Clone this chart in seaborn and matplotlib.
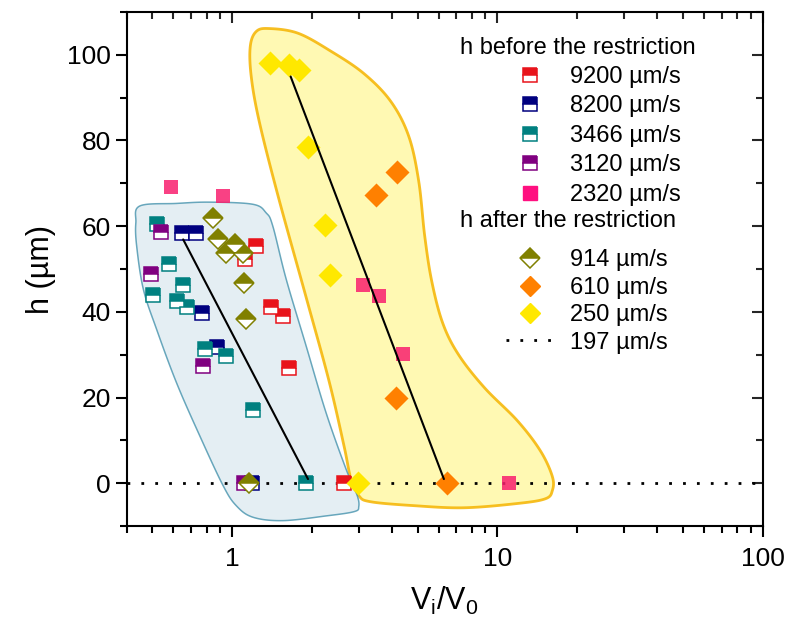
import numpy as np
import matplotlib
matplotlib.use('Agg')
import matplotlib.pyplot as plt
import matplotlib.ticker as mticker
from matplotlib.lines import Line2D
from matplotlib.patches import Polygon
import seaborn as sns

# ---- h before the restriction (Vi/V0, h in um) ----
v9200_x = [1.23, 1.12, 1.40, 1.55, 1.63, 2.64]
v9200_y = [55.3, 52.3, 41.1, 39.1, 26.9, 0]
v8200_x = [0.649, 0.728, 0.767, 0.878, 1.19]
v8200_y = [58.3, 58.3, 39.8, 31.9, 0]
v3466_x = [0.522, 0.575, 0.653, 0.501, 0.621, 0.677, 0.787, 0.949, 1.20, 1.90]
v3466_y = [60.6, 51.1, 46.2, 43.9, 42.5, 41.2, 31.3, 29.7, 17.1, 0]
v3120_x = [0.541, 0.492, 0.776, 1.11]
v3120_y = [58.7, 48.8, 27.4, 0]
v2320_x = [0.586, 0.923, 3.10, 3.58, 4.40, 11.1]
v2320_y = [69.2, 67.0, 46.3, 43.7, 30.1, 0]

# ---- h after the restriction ----
v914_x = [0.846, 0.884, 1.02, 0.949, 1.097, 1.103, 1.129, 1.155]
v914_y = [61.8, 56.9, 55.8, 53.8, 53.8, 46.7, 38.3, 0]
v610_x = [4.19, 3.47, 4.16, 6.43]
v610_y = [72.7, 67.2, 19.8, 0]
v250_x = [1.39, 1.63, 1.79, 1.93, 2.24, 2.34, 2.97]
v250_y = [98.0, 97.7, 96.5, 78.4, 60.2, 48.6, 0]

# guide lines
line1_x = [0.653, 1.93]
line1_y = [56.9, 1.0]
line2_x = [1.66, 6.28]
line2_y = [94.9, 1.0]

# envelope outlines (hand drawn regions)
blue_x = [0.433, 0.448, 0.616, 0.822, 1.196, 1.342, 1.422, 1.596, 1.898, 2.257,
          2.683, 2.95, 3.0, 2.88, 2.257, 1.551, 1.196, 1.035, 0.923, 0.754,
          0.616, 0.518, 0.462, 0.436]
blue_y = [60.8, 64.7, 65.3, 65.6, 65.1, 63.1, 60.0, 47.7, 32.1, 16.5,
          3.4, -2.6, -5.4, -6.6, -7.6, -8.7, -7.9, -5.2, -0.5, 11.1,
          23.5, 36.0, 45.3, 55.4]
yel_x = [1.169, 1.231, 1.377, 1.771, 2.356, 3.135, 3.96, 4.627, 5.047, 5.317,
         5.649, 6.215, 7.135, 8.935, 11.89, 14.51, 16.1, 16.1, 15.15, 11.89,
         7.45, 4.83, 3.33, 3.002, 2.80, 2.637, 2.316, 1.897, 1.489, 1.263, 1.179]
yel_y = [101.9, 105.4, 106.1, 105.0, 100.8, 95.6, 89.1, 81.0, 70.5, 57.7,
         47.2, 37.4, 30.0, 22.3, 14.6, 7.6, 1.6, -1.7, -3.6, -4.7,
         -5.7, -5.2, -4.3, -2.9, 1.1, 8.8, 23.9, 43.5, 67.0, 84.5, 94.9]

before_labels = ['9200 µm/s', '8200 µm/s', '3466 µm/s', '3120 µm/s', '2320 µm/s']
after_labels = ['914 µm/s', '610 µm/s', '250 µm/s', '197 µm/s']

red, navy, teal, purple, pink = '#e8141b', '#00007f', '#008080', '#800080', '#ff1080'
olive, orange, yellow = '#808000', '#ff8000', '#ffe800'


def smooth_closed(xs, ys, n=16):
    # closed Catmull-Rom curve in (log x, y) space
    P = np.column_stack([np.log10(xs), ys])
    N = len(P)
    t = np.linspace(0, 1, n, endpoint=False)[:, None]
    segs = []
    for i in range(N):
        p0, p1, p2, p3 = P[i - 1], P[i], P[(i + 1) % N], P[(i + 2) % N]
        segs.append(0.5 * (2 * p1 + (-p0 + p2) * t
                           + (2 * p0 - 5 * p1 + 4 * p2 - p3) * t ** 2
                           + (-p0 + 3 * p1 - 3 * p2 + p3) * t ** 3))
    out = np.vstack(segs)
    return np.column_stack([10 ** out[:, 0], out[:, 1]])


sns.set_theme(style='ticks')
plt.rcParams['font.family'] = ['Liberation Sans', 'DejaVu Sans']
plt.rcParams['mathtext.default'] = 'regular'
plt.rcParams['text.color'] = 'black'
plt.rcParams['axes.labelcolor'] = 'black'

fig, ax = plt.subplots(figsize=(7.92, 6.22), dpi=100)
fig.subplots_adjust(left=0.16, right=0.963, top=0.981, bottom=0.154)
ax.set_xscale('log')
ax.set_xlim(0.4, 100)
ax.set_ylim(-10, 110)

# shaded envelopes
ax.add_patch(Polygon(smooth_closed(yel_x, yel_y), closed=True, facecolor='#fff8a6',
                     alpha=0.85, edgecolor='#f5b400', lw=2.0, zorder=1))
ax.add_patch(Polygon(smooth_closed(blue_x, blue_y), closed=True, facecolor='#dce9ef',
                     alpha=0.75, edgecolor='#3a8ca8', lw=1.1, zorder=1.2))

# 197 um/s: h = 0
ax.axhline(0, color='black', ls=(0, (1, 4)), lw=2, zorder=2)

sq = dict(ls='', marker='s', ms=9.8, mew=1.1, fillstyle='top', markerfacecoloralt='white')
for xs, ys, c in [(v9200_x, v9200_y, red), (v8200_x, v8200_y, navy),
                  (v3466_x, v3466_y, teal), (v3120_x, v3120_y, purple)]:
    ax.plot(xs, ys, color=c, mfc=c, mec=c, zorder=3, **sq)

sns.scatterplot(x=v2320_x, y=v2320_y, marker='s', s=105, color='#f8206e', alpha=0.85,
                linewidth=0, ax=ax, zorder=3, legend=False)

ax.plot(v914_x, v914_y, ls='', marker='D', ms=10, mew=1.1, color=olive, mfc=olive,
        mec=olive, fillstyle='top', markerfacecoloralt='white', zorder=4)
sns.scatterplot(x=v610_x, y=v610_y, marker='D', s=150, color=orange, linewidth=0,
                ax=ax, zorder=4, legend=False)
sns.scatterplot(x=v250_x, y=v250_y, marker='D', s=150, color=yellow, linewidth=0,
                ax=ax, zorder=4, legend=False)

sns.lineplot(x=line1_x, y=line1_y, color='black', lw=1.5, ax=ax, zorder=5,
             estimator=None, sort=False, legend=False)
sns.lineplot(x=line2_x, y=line2_y, color='black', lw=1.5, ax=ax, zorder=5,
             estimator=None, sort=False, legend=False)

# axes styling
for sp in ax.spines.values():
    sp.set_linewidth(1.5)
    sp.set_color('black')
ax.xaxis.set_major_formatter(mticker.FuncFormatter(lambda v, _: f'{v:g}'))
ax.xaxis.set_minor_formatter(mticker.NullFormatter())
ax.yaxis.set_major_locator(mticker.MultipleLocator(20))
ax.yaxis.set_minor_locator(mticker.MultipleLocator(10))
ax.tick_params(which='both', direction='out', width=1.5, color='black', labelsize=19,
               labelcolor='black')
ax.tick_params(which='major', length=8)
ax.tick_params(which='minor', length=5)
ax.tick_params(axis='x', which='major', pad=7)

top = ax.secondary_xaxis('top')
top.tick_params(which='both', direction='in', width=1.5, labeltop=False)
top.tick_params(which='major', length=8)
top.tick_params(which='minor', length=5)
right = ax.secondary_yaxis('right')
right.yaxis.set_major_locator(mticker.MultipleLocator(20))
right.yaxis.set_minor_locator(mticker.MultipleLocator(10))
right.tick_params(which='both', direction='in', width=1.5, labelright=False)
right.tick_params(which='major', length=8)
right.tick_params(which='minor', length=5)

ax.set_xlabel(r'V$_i$/V$_0$', fontsize=22, labelpad=10)
ax.set_ylabel('h (µm)', fontsize=22, labelpad=8)

# legend
before_colors = [red, navy, teal, purple]
h_before = [Line2D([], [], color=c, mfc=c, mec=c, **sq) for c in before_colors]
h_before.append(Line2D([], [], ls='', marker='s', ms=9.8, color=pink, mec=pink))
h_after = [Line2D([], [], ls='', marker='D', ms=10, mew=1.1, color=olive, mfc=olive, mec=olive,
                  fillstyle='top', markerfacecoloralt='white'),
           Line2D([], [], ls='', marker='D', ms=10, color=orange, mec=orange),
           Line2D([], [], ls='', marker='D', ms=10, color=yellow, mec=yellow),
           Line2D([], [], color='black', ls=(0, (1, 4)), lw=2)]

leg_kw = dict(loc='upper left', frameon=False, fontsize=17, handlelength=2.0,
              handletextpad=0.7, borderpad=0, borderaxespad=0)
leg1 = ax.legend(handles=h_before, labels=before_labels, bbox_to_anchor=(0.597, 0.895),
                 labelspacing=0.32, **leg_kw)
ax.add_artist(leg1)
ax.legend(handles=h_after, labels=after_labels, bbox_to_anchor=(0.597, 0.538),
          labelspacing=0.23, **leg_kw)
ax.text(0.524, 0.929, 'h before the restriction', transform=ax.transAxes, fontsize=17,
        va='center', ha='left')
ax.text(0.524, 0.594, 'h after the restriction', transform=ax.transAxes, fontsize=17,
        va='center', ha='left')

fig.savefig('out.png', dpi=100)
